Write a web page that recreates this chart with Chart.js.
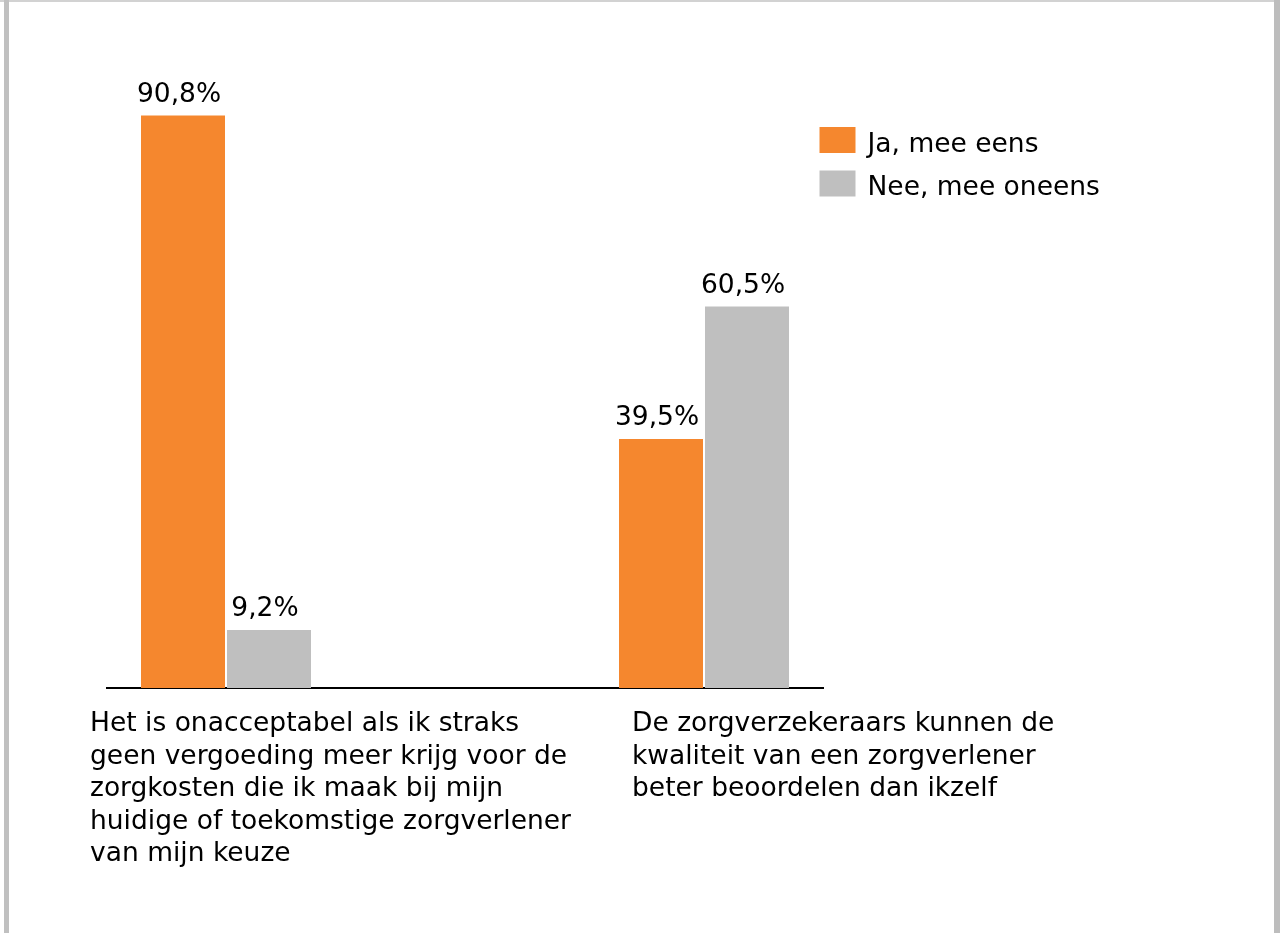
<!DOCTYPE html>
<html>
<head>
<meta charset="utf-8">
<script src="https://cdn.jsdelivr.net/npm/chart.js@4.4.0/dist/chart.umd.min.js"></script>
<style>
    body { margin: 0; background: #fff; }
    #wrap { position: relative; width: 1280px; height: 933px; overflow: hidden; }
    #chart { position: absolute; left: 0; top: 0; }
    .edge { position: absolute; background: #c0c0c0; }
</style>
</head>
<body>
<div id="wrap">
    <canvas id="chart" width="1280" height="933"></canvas>
    <div class="edge" style="left:0; top:0; width:1280px; height:2px; background:#d2d2d2;"></div>
    <div class="edge" style="left:4px; top:0; width:5px; height:933px;"></div>
    <div class="edge" style="left:1274px; top:0; width:6px; height:933px; background:#bdbdbd;"></div>
</div>
<script>
// ============================================
// DATA
// ============================================

// Category labels (already broken into lines as in the original)
const categories = [
    ['Het is onacceptabel als ik straks',
     'geen vergoeding meer krijg voor de',
     'zorgkosten die ik maak bij mijn',
     'huidige of toekomstige zorgverlener',
     'van mijn keuze'],
    ['De zorgverzekeraars kunnen de',
     'kwaliteit van een zorgverlener',
     'beter beoordelen dan ikzelf']
];

const seriesNames = ['Ja, mee eens', 'Nee, mee oneens'];
const jaValues = [90.8, 39.5];
const neeValues = [9.2, 60.5];

// ============================================
// STYLE
// ============================================
const ORANGE = '#f5872e';
const GREY = '#bfbfbf';
const FONT = '"DejaVu Sans", Verdana, sans-serif';
const FONT_SIZE = 26.5;

// The original leaves an empty slot between the two groups
const slotLabels = ['a', '', 'b'];
function withGap(values) {
    return [values[0], null, values[1]];
}

// Format number as "90,8%"
function pct(v) {
    return v.toFixed(1).replace('.', ',') + '%';
}

// Draw value labels above each bar
const valueLabels = {
    id: 'valueLabels',
    afterDatasetsDraw(chart) {
        const ctx = chart.ctx;
        ctx.save();
        ctx.font = FONT_SIZE + 'px ' + FONT;
        ctx.fillStyle = '#000';
        ctx.textAlign = 'center';
        ctx.textBaseline = 'alphabetic';
        chart.data.datasets.forEach((ds, i) => {
            chart.getDatasetMeta(i).data.forEach((bar, j) => {
                const v = ds.data[j];
                if (v === null) return;
                ctx.fillText(pct(v), bar.x - 4, bar.y - 13.5);
            });
        });
        ctx.restore();
    }
};

// Left-aligned multi-line category labels under the axis
const categoryLabels = {
    id: 'categoryLabels',
    afterDraw(chart) {
        const ctx = chart.ctx;
        const xScale = chart.scales.x;
        const shift = [-136, -72];   // left edge of text relative to group centre
        const slots = [0, 2];
        ctx.save();
        ctx.font = FONT_SIZE + 'px ' + FONT;
        ctx.fillStyle = '#000';
        ctx.textAlign = 'left';
        ctx.textBaseline = 'alphabetic';
        categories.forEach((lines, i) => {
            const x = xScale.getPixelForValue(slots[i]) + shift[i];
            lines.forEach((line, k) => {
                ctx.fillText(line, x, chart.chartArea.bottom + 43 + k * 32.5);
            });
        });
        ctx.restore();
    }
};

// Legend in the top right, drawn from the datasets
const sideLegend = {
    id: 'sideLegend',
    afterDraw(chart) {
        const ctx = chart.ctx;
        ctx.save();
        ctx.font = FONT_SIZE + 'px ' + FONT;
        ctx.textAlign = 'left';
        ctx.textBaseline = 'alphabetic';
        chart.data.datasets.forEach((ds, i) => {
            const top = 127 + i * 43.5;
            ctx.fillStyle = ds.backgroundColor;
            ctx.fillRect(819.5, top, 36, 26);
            ctx.fillStyle = '#000';
            ctx.fillText(ds.label, 867.5, top + 24.5);
        });
        ctx.restore();
    }
};

const ctx = document.getElementById('chart').getContext('2d');

new Chart(ctx, {
    type: 'bar',
    data: {
        labels: slotLabels,
        datasets: [{
            label: seriesNames[0],
            data: withGap(jaValues),
            backgroundColor: ORANGE,
            categoryPercentage: 172 / 239,
            barPercentage: 84 / 86
        }, {
            label: seriesNames[1],
            data: withGap(neeValues),
            backgroundColor: GREY,
            categoryPercentage: 172 / 239,
            barPercentage: 84 / 86
        }]
    },
    options: {
        responsive: false,
        animation: false,
        devicePixelRatio: 1,
        layout: {
            padding: { left: 106.5, right: 456.5, top: 57.5, bottom: 245 }
        },
        plugins: {
            legend: { display: false },
            tooltip: { enabled: false }
        },
        scales: {
            x: {
                z: 1,  // keep the axis line on top of the bar bottoms
                grid: { display: false, drawTicks: false },
                ticks: { display: false },
                border: { display: true, color: '#000', width: 2 }
            },
            y: {
                display: false,
                min: 0,
                max: 100
            }
        }
    },
    plugins: [valueLabels, categoryLabels, sideLegend]
});
</script>
</body>
</html>
